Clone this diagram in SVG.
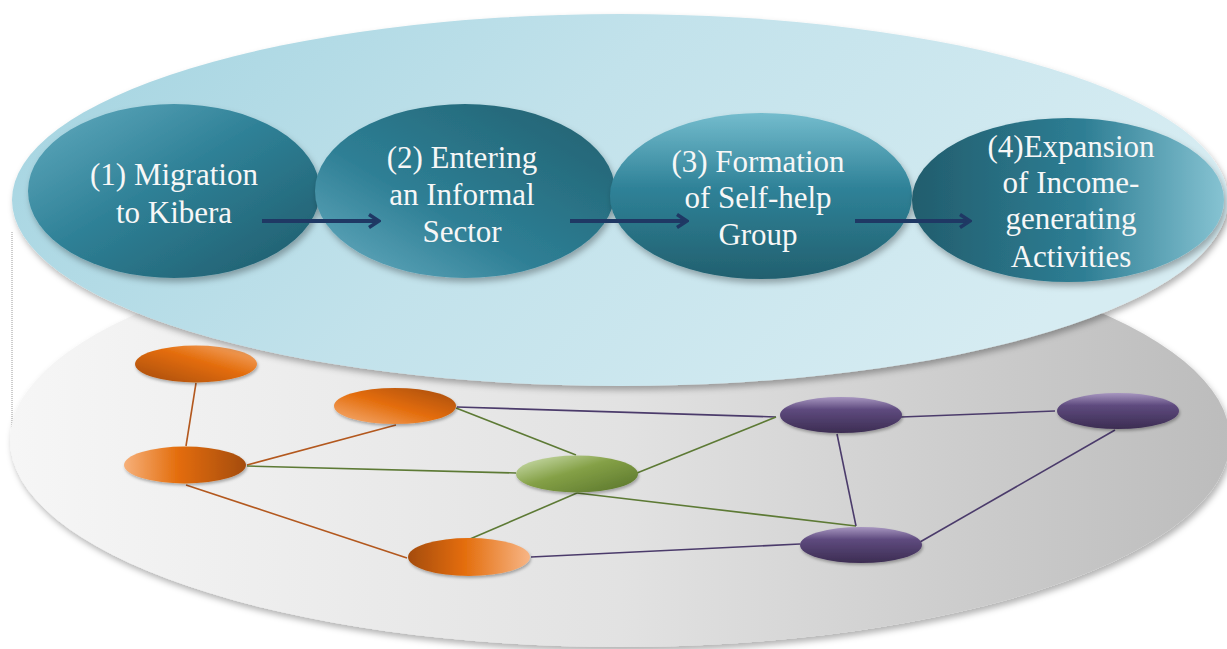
<svg xmlns="http://www.w3.org/2000/svg" width="1227" height="649" viewBox="0 0 1227 649">
<style>
.step{font-family:"Liberation Serif","Times New Roman",serif;font-size:31px;fill:#f7f7f7;text-anchor:middle}
.eo{stroke:#b3581e;stroke-width:1.6;fill:none}
.eg{stroke:#5d7a35;stroke-width:1.6;fill:none}
.ep{stroke:#4b3b6b;stroke-width:1.6;fill:none}
.arrow{stroke:#1f3864;stroke-width:4;fill:none;marker-end:url(#ah)}
</style>
<defs>
<filter id="sh" x="-10%" y="-10%" width="120%" height="130%">
<feDropShadow dx="2" dy="4" stdDeviation="3" flood-color="#000" flood-opacity="0.3"/>
</filter>
<filter id="shs" x="-10%" y="-20%" width="120%" height="150%">
<feDropShadow dx="1" dy="2" stdDeviation="1.5" flood-color="#000" flood-opacity="0.3"/>
</filter>
<linearGradient id="gGray" x1="0" y1="0" x2="1" y2="0">
<stop offset="0" stop-color="#f6f6f6"/><stop offset="0.5" stop-color="#e2e2e2"/><stop offset="1" stop-color="#bcbcbc"/>
</linearGradient>
<linearGradient id="gBlue" x1="0" y1="0" x2="1" y2="0.3">
<stop offset="0" stop-color="#a2d3e0"/><stop offset="0.5" stop-color="#c2e2eb"/><stop offset="1" stop-color="#d6ecf2"/>
</linearGradient>
<linearGradient id="t1" x1="0" y1="0" x2="1" y2="1">
<stop offset="0" stop-color="#64acc0"/><stop offset="0.45" stop-color="#2f8197"/><stop offset="1" stop-color="#1f5a6a"/>
</linearGradient>
<linearGradient id="t2" x1="0" y1="1" x2="1" y2="0">
<stop offset="0" stop-color="#6aaec2"/><stop offset="0.4" stop-color="#2e7f95"/><stop offset="1" stop-color="#22606f"/>
</linearGradient>
<linearGradient id="t3" x1="0" y1="0" x2="0" y2="1">
<stop offset="0" stop-color="#74bccd"/><stop offset="0.45" stop-color="#2f8298"/><stop offset="1" stop-color="#22606f"/>
</linearGradient>
<linearGradient id="t4" x1="0" y1="0" x2="1" y2="0">
<stop offset="0" stop-color="#225d6d"/><stop offset="0.55" stop-color="#2e7e94"/><stop offset="1" stop-color="#86c3d2"/>
</linearGradient>
<linearGradient id="oA" x1="1" y1="0" x2="0" y2="1">
<stop offset="0" stop-color="#f6b07a"/><stop offset="0.45" stop-color="#e36c0a"/><stop offset="1" stop-color="#a44c0c"/>
</linearGradient>
<linearGradient id="oB" x1="0" y1="1" x2="1" y2="0">
<stop offset="0" stop-color="#f6b07a"/><stop offset="0.5" stop-color="#e36c0a"/><stop offset="1" stop-color="#a44c0c"/>
</linearGradient>
<linearGradient id="oC" x1="0" y1="0" x2="1" y2="0">
<stop offset="0" stop-color="#f6b07a"/><stop offset="0.45" stop-color="#e36c0a"/><stop offset="1" stop-color="#a44c0c"/>
</linearGradient>
<linearGradient id="oE" x1="0" y1="0" x2="1" y2="0">
<stop offset="0" stop-color="#a44c0c"/><stop offset="0.45" stop-color="#e36c0a"/><stop offset="1" stop-color="#f7b585"/>
</linearGradient>
<linearGradient id="gr" x1="0" y1="0" x2="1" y2="1">
<stop offset="0" stop-color="#d3e4b8"/><stop offset="0.45" stop-color="#84a046"/><stop offset="1" stop-color="#57732a"/>
</linearGradient>
<linearGradient id="pu" x1="0" y1="0" x2="0" y2="1">
<stop offset="0" stop-color="#a796c0"/><stop offset="0.35" stop-color="#5e4a7e"/><stop offset="1" stop-color="#3c2d52"/>
</linearGradient>
<marker id="ah" viewBox="0 0 14 16" refX="12" refY="8" markerWidth="14" markerHeight="16" markerUnits="userSpaceOnUse" orient="auto">
<path d="M2,1.5 L12,8 L2,14.5" fill="none" stroke="#1f3864" stroke-width="3.5"/>
</marker>
</defs>

<line x1="12" y1="232" x2="12" y2="437" stroke="#9a9a9a" stroke-width="1" stroke-dasharray="1 1"/>

<g id="base-disc">
<ellipse cx="620" cy="440" rx="610" ry="207" fill="url(#gGray)" filter="url(#sh)"/>
</g>

<g id="connectors">
<line class="eo" x1="196" y1="383" x2="186" y2="446"/>
<line class="eo" x1="247" y1="465" x2="396" y2="425"/>
<line class="eg" x1="247" y1="466" x2="516" y2="473"/>
<line class="eo" x1="186" y1="485" x2="407" y2="558"/>
<line class="eg" x1="456" y1="408" x2="576" y2="455"/>
<line class="ep" x1="457" y1="407" x2="776" y2="417"/>
<line class="eg" x1="577" y1="493" x2="470" y2="539"/>
<line class="eg" x1="637" y1="473" x2="776" y2="417"/>
<line class="eg" x1="577" y1="493" x2="856" y2="526"/>
<line class="ep" x1="837" y1="434" x2="856" y2="526"/>
<line class="ep" x1="531" y1="557" x2="800" y2="544"/>
<line class="ep" x1="901" y1="417" x2="1055" y2="411"/>
<line class="ep" x1="1115" y1="430" x2="920" y2="542"/>
</g>

<g id="node-A"><ellipse cx="196" cy="364" rx="61" ry="18.5" fill="url(#oA)" filter="url(#shs)"/></g>
<g id="node-B"><ellipse cx="395" cy="406" rx="61" ry="18" fill="url(#oB)" filter="url(#shs)"/></g>
<g id="node-C"><ellipse cx="185" cy="465" rx="61" ry="18.5" fill="url(#oC)" filter="url(#shs)"/></g>
<g id="node-D"><ellipse cx="577" cy="474" rx="61" ry="18.5" fill="url(#gr)" filter="url(#shs)"/></g>
<g id="node-E"><ellipse cx="469" cy="557" rx="61" ry="19" fill="url(#oE)" filter="url(#shs)"/></g>
<g id="node-F"><ellipse cx="841" cy="415" rx="61" ry="18" fill="url(#pu)" filter="url(#shs)"/></g>
<g id="node-G"><ellipse cx="1118" cy="411" rx="61" ry="18" fill="url(#pu)" filter="url(#shs)"/></g>
<g id="node-H"><ellipse cx="861" cy="545" rx="61" ry="18" fill="url(#pu)" filter="url(#shs)"/></g>

<g id="top-disc">
<ellipse cx="620" cy="200" rx="608" ry="186" fill="url(#gBlue)" filter="url(#sh)"/>
</g>

<g id="step-1">
<ellipse cx="174" cy="191" rx="146" ry="87" fill="url(#t1)" filter="url(#sh)"/>
<text class="step" x="174" y="185">(1) Migration</text>
<text class="step" x="174" y="223">to Kibera</text>
</g>
<g id="step-2">
<ellipse cx="465" cy="191" rx="150" ry="87" fill="url(#t2)" filter="url(#sh)"/>
<text class="step" x="462" y="168">(2) Entering</text>
<text class="step" x="462" y="205">an Informal</text>
<text class="step" x="462" y="242">Sector</text>
</g>
<g id="step-3">
<ellipse cx="761" cy="196" rx="151" ry="83" fill="url(#t3)" filter="url(#sh)"/>
<text class="step" x="758" y="172">(3) Formation</text>
<text class="step" x="758" y="208">of Self-help</text>
<text class="step" x="758" y="245">Group</text>
</g>
<g id="step-4">
<ellipse cx="1068" cy="200" rx="156" ry="82" fill="url(#t4)" filter="url(#sh)"/>
<text class="step" x="1071" y="157">(4)Expansion</text>
<text class="step" x="1071" y="193">of Income-</text>
<text class="step" x="1071" y="229">generating</text>
<text class="step" x="1071" y="267">Activities</text>
</g>

<g id="arrows">
<line class="arrow" x1="262" y1="221" x2="379" y2="221"/>
<line class="arrow" x1="570" y1="221" x2="687" y2="221"/>
<line class="arrow" x1="855" y1="221" x2="970" y2="221"/>
</g>
</svg>
